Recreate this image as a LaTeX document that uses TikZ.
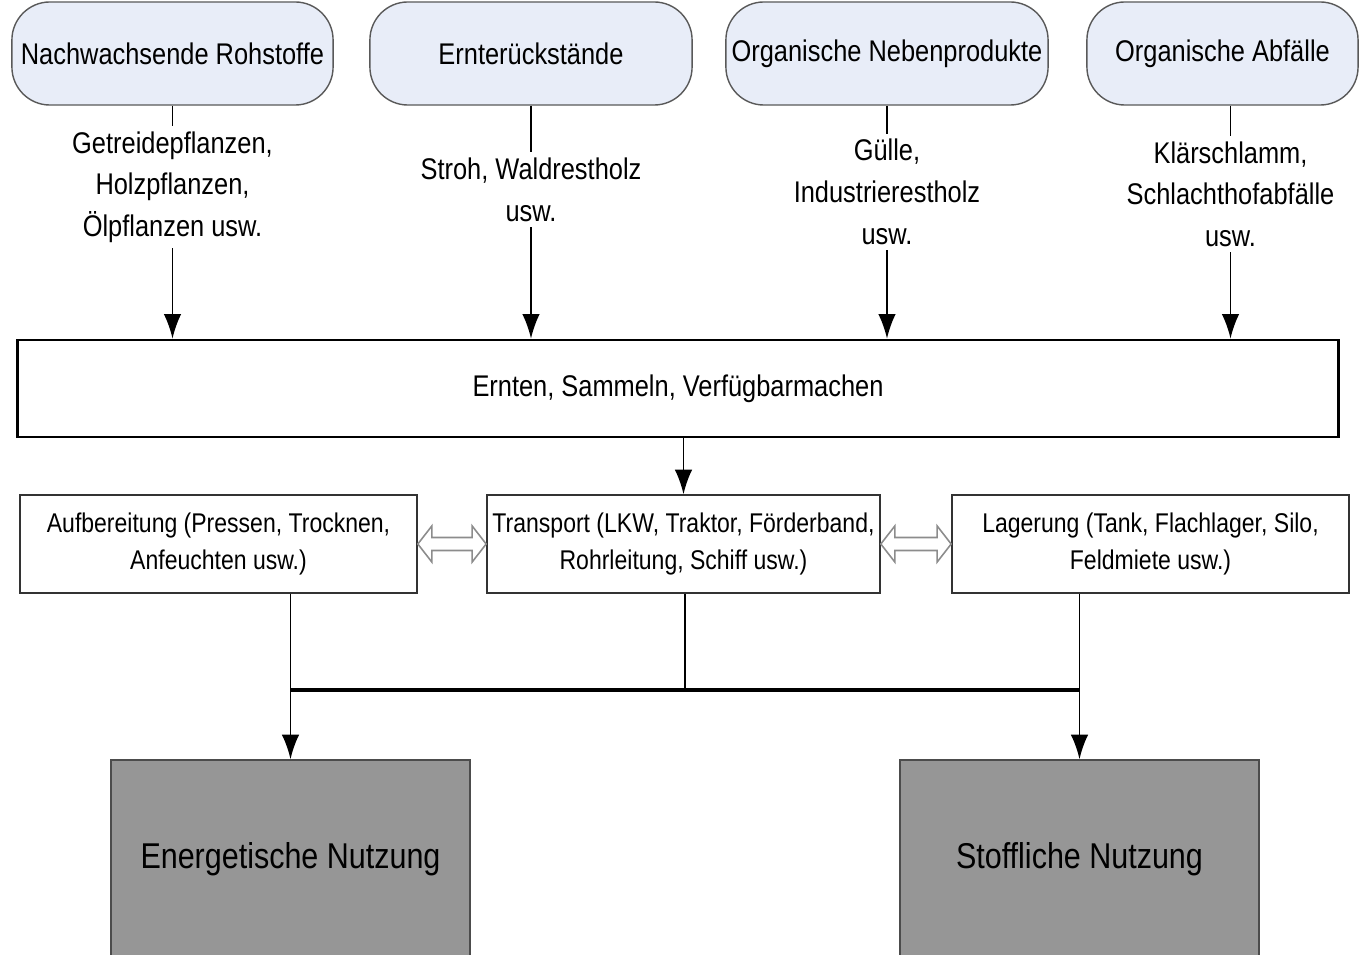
\documentclass[tikz,border=0pt]{standalone}
\usepackage{fontspec}
\setmainfont[FakeStretch=0.85]{Liberation Sans}
\usetikzlibrary{arrows.meta,positioning,calc}
\definecolor{srcfill}{HTML}{E8EDF8}
\definecolor{usefill}{HTML}{969696}

\begin{document}
\begin{tikzpicture}[x=0.01cm,y=-0.01cm,
    src/.style={draw=black!65, fill=srcfill, rounded corners=0.38cm, minimum height=1.03cm, inner sep=0pt, font=\fontsize{8.5}{10}\selectfont},
    lbl/.style={fill=white, align=center, inner sep=1.5pt, font=\fontsize{8.5}{11.9}\selectfont},
    stage/.style={draw=black!80, minimum height=0.98cm, align=center, inner sep=0pt, font=\fontsize{7.7}{10.5}\selectfont},
    usebox/.style={draw=black!70, fill=usefill, minimum width=3.59cm, minimum height=1.98cm, font=\fontsize{10.2}{12}\selectfont},
    arr/.style={-{Latex[length=7pt,width=5pt]}, line width=0.55pt},
    hollow/.style={draw=black!45, fill=white, line width=0.45pt}]

    \useasboundingbox (0,0) rectangle (1359,955);

    % Sources
    \node[src, minimum width=3.21cm] (nachw) at (172.5,53.5) {Nachwachsende Rohstoffe};
    \node[src, minimum width=3.22cm] (ernte) at (531,53.5) {Ernterückstände};
    \node[src, minimum width=3.22cm] (neben) at (887,53.5) {Organische Nebenprodukte};
    \node[src, minimum width=2.71cm] (abf) at (1222.5,53.5) {Organische Abfälle};
    \coordinate (abfout) at ([xshift=0.08cm]abf.south);

    % Collection
    \node[stage, draw=black, line width=0.75pt, minimum width=13.2cm, minimum height=0.97cm, font=\fontsize{8.5}{10}\selectfont] (samm) at (678,388.5) {Ernten, Sammeln, Verfügbarmachen};

    % Source arrows with examples
    \draw[arr] (nachw.south) -- (samm.north -| nachw.south)
        node[lbl, pos=0.35] {Getreidepflanzen,\\Holzpflanzen,\\Ölpflanzen usw.};
    \draw[arr] (ernte.south) -- (samm.north -| ernte.south)
        node[lbl, pos=0.36] {Stroh, Waldrestholz\\usw.};
    \draw[arr] (neben.south) -- (samm.north -| neben.south)
        node[lbl, pos=0.37] {Gülle,\\Industrierestholz\\usw.};
    \draw[arr] (abfout) -- (samm.north -| abfout)
        node[lbl, pos=0.38] {Klärschlamm,\\Schlachthofabfälle\\usw.};

    % Processing steps
    \node[stage, minimum width=3.97cm] (aufb) at (218.5,544) {Aufbereitung (Pressen, Trocknen,\\Anfeuchten usw.)};
    \node[stage, minimum width=3.93cm] (transp) at (683.5,544) {Transport (LKW, Traktor, Förderband,\\Rohrleitung, Schiff usw.)};
    \node[stage, minimum width=3.97cm] (lager) at (1150.5,544) {Lagerung (Tank, Flachlager, Silo,\\Feldmiete usw.)};

    \draw[arr] (samm.south -| transp.north) -- (transp.north);

    % Hollow double arrows
    \foreach \a/\b in {aufb/transp, transp/lager} {
        \draw[hollow] (\a.east) -- ++(14,-18) -- ++(0,11.5) -- ($(\b.west)+(-14,-6.5)$)
            -- ++(0,-11.5) -- (\b.west) -- ++(-14,18) -- ++(0,-11.5)
            -- ($(\a.east)+(14,6.5)$) -- ++(0,11.5) -- cycle;
    }

    % Uses
    \node[usebox] (energ) at (290.5,859) {Energetische Nutzung};
    \node[usebox] (stoff) at (1079.5,859) {Stoffliche Nutzung};

    \coordinate (join) at (685,690);
    \draw[arr] (aufb.south -| energ.north) -- (energ.north);
    \draw[arr] (lager.south -| stoff.north) -- (stoff.north);
    \draw[line width=0.55pt] (transp.south -| join) -- (join);
    \draw[line width=1.1pt] (join -| energ.north) -- (join -| stoff.north);
\end{tikzpicture}
\end{document}
